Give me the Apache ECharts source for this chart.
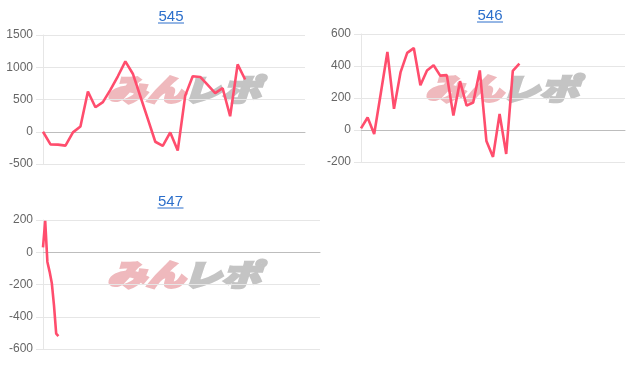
<!DOCTYPE html>
<html>
<head>
<meta charset="utf-8">
<script src="https://cdn.jsdelivr.net/npm/echarts@6/dist/echarts.min.js"></script>
<style>html,body{margin:0;padding:0;background:#fff;}#c{width:640px;height:372px;}</style>
</head>
<body>
<div id="c"></div>
<script>
// Chart titles
const titles = ['545', '546', '547'];
// Number of x slots per chart
const slotCounts = [36, 41, 127];
// Series values (difference per step)
const values545 = [0, -195, -200, -215, -10, 80, 625, 380, 460, 650, 860, 1090, 900, 550, 200, -155, -220, -10, -290, 560, 860, 850, 725, 600, 675, 240, 1045, 810];
const values546 = [10, 78, -25, 230, 488, 132, 362, 482, 512, 280, 372, 405, 340, 343, 90, 305, 152, 172, 372, -68, -168, 100, -150, 370, 415];
const values547 = [30, 195, -60, -120, -190, -330, -505, -520];
// Y tick settings
const yMin = [-500, -200, -600];
const yMax = [1500, 600, 200];
const yStep = [500, 200, 200];

const seriesValues = [values545, values546, values547];
const grids = [
  {left: 43, top: 35, width: 262, height: 129},
  {left: 361, top: 34, width: 264, height: 128},
  {left: 43, top: 220, width: 277, height: 129}
];

const chart = echarts.init(document.getElementById('c'), null, {renderer: 'canvas'});

const xAxes = [], yAxes = [], series = [], graphics = [];
grids.forEach((g, i) => {
  const cats = [];
  for (let k = 1; k <= slotCounts[i]; k++) cats.push(String(k));
  xAxes.push({
    type: 'category', gridIndex: i, data: cats, boundaryGap: false,
    axisLine: {show: true, onZero: true, lineStyle: {color: '#bdbdbd', width: 1}},
    axisTick: {show: false}, axisLabel: {show: false}, splitLine: {show: false}
  });
  yAxes.push({
    type: 'value', gridIndex: i, min: yMin[i], max: yMax[i], interval: yStep[i],
    axisLine: {show: true, lineStyle: {color: '#e6e6e6'}},
    axisTick: {show: true, length: 7, lineStyle: {color: '#e6e6e6'}},
    axisLabel: {color: '#666', fontSize: 12, margin: 10, fontFamily: 'Arial, Liberation Sans, sans-serif',
      formatter: v => String(v)},
    splitLine: {show: true, lineStyle: {color: '#e6e6e6'}}
  });
  series.push({
    type: 'line', xAxisIndex: i, yAxisIndex: i, data: seriesValues[i],
    symbol: 'none', lineStyle: {color: '#ff4d6d', width: 2.6}, z: 5, animation: false
  });
  const cx = g.left + g.width / 2 - (i === 2 ? 11 : 3);
  graphics.push({
    type: 'text', x: cx, y: g.top - 18,
    style: {text: titles[i], fill: '#2c6fcb', font: '15px Arial, Liberation Sans, sans-serif', textAlign: 'center', textVerticalAlign: 'middle'}
  });
  graphics.push({
    type: 'line', shape: {x1: cx - 13, y1: g.top - 12, x2: cx + 13, y2: g.top - 12},
    style: {stroke: '#2c6fcb', lineWidth: 1}
  });
  // watermark
  const wx = g.left + 64, wy = g.top + 55;
  const wmFont = 'italic 900 30px "Noto Sans CJK JP", sans-serif';
  graphics.push({
    type: 'group', x: wx, y: wy, z: 1, scaleX: 1.3, scaleY: 1,
    children: [
      {type: 'text', x: 0, y: 0, style: {text: 'みん', fill: '#efb9bd', stroke: '#efb9bd', lineWidth: 2.5, font: wmFont, textVerticalAlign: 'middle'}},
      {type: 'text', x: 58, y: 0, style: {text: 'レポ', fill: '#c4c4c4', stroke: '#c4c4c4', lineWidth: 2.5, font: wmFont, textVerticalAlign: 'middle'}}
    ]
  });
});

chart.setOption({
  animation: false,
  grid: grids,
  xAxis: xAxes,
  yAxis: yAxes,
  series: series,
  graphic: graphics
});
</script>
</body>
</html>
